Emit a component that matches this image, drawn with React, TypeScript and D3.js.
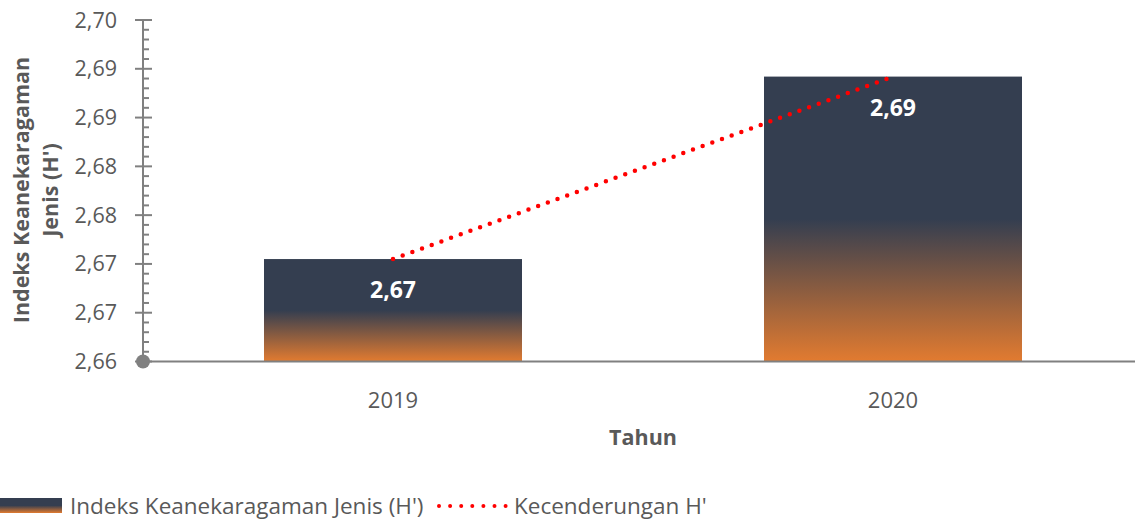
import React from "react";
import * as d3 from "d3";

const years = ["2019", "2020"];
const indexValues = [2.6705, 2.6892];
const valueLabels = ["2,67", "2,69"];
const yTickValues = [2.66, 2.665, 2.67, 2.675, 2.68, 2.685, 2.69, 2.695];
const yTickLabels = ["2,66", "2,67", "2,67", "2,68", "2,68", "2,69", "2,69", "2,70"];

const width = 1135;
const height = 520;
const margin = { top: 20, left: 143, bottom: 361.5 };
const font = "'Open Sans', sans-serif";
const textColor = "#595959";
const axisColor = "#808080";

const App = () => {
  const x = d3.scaleBand().domain(years).range([margin.left, 1143]).padding(0);
  const y = d3.scaleLinear().domain([2.66, 2.695]).range([margin.bottom, margin.top]);
  const barW = x.bandwidth() * 0.516;
  const cx = (d) => x(d) + x.bandwidth() / 2;

  const minorTicks = d3.range(0, 36).map((i) => 2.66 + i * 0.001).filter((_, i) => i % 5 !== 0);

  const trend = d3
    .line()
    .x((d) => cx(d[0]))
    .y((d) => y(d[1]))(years.map((yr, i) => [yr, indexValues[i]]));

  return (
    <svg width={width} height={height} style={{ position: "absolute", left: 0, top: 0 }} fontFamily={font}>
      <defs>
        <linearGradient id="barGrad" x1="0" y1="0" x2="0" y2="1">
          <stop offset="0" stopColor="#343e50" />
          <stop offset="0.5" stopColor="#343e50" />
          <stop offset="1" stopColor="#e27b30" />
        </linearGradient>
      </defs>

      {/* bars */}
      {years.map((yr, i) => (
        <rect
          key={yr}
          x={cx(yr) - barW / 2}
          y={y(indexValues[i])}
          width={barW}
          height={margin.bottom - y(indexValues[i])}
          fill="url(#barGrad)"
        />
      ))}

      {/* y axis */}
      <line x1={margin.left} x2={margin.left} y1={margin.top} y2={margin.bottom} stroke={axisColor} strokeWidth={2} />
      {minorTicks.map((t) => (
        <line key={t} x1={margin.left} x2={margin.left + 6} y1={y(t)} y2={y(t)} stroke={axisColor} strokeWidth={2} />
      ))}
      {yTickValues.map((t, i) => (
        <g key={t}>
          <line x1={margin.left - 8} x2={margin.left + 9} y1={y(t)} y2={y(t)} stroke={axisColor} strokeWidth={2} />
          <text x={117} y={y(t)} dy="0.35em" textAnchor="end" fontSize={21.5} fill={textColor}>
            {yTickLabels[i]}
          </text>
        </g>
      ))}

      {/* x axis */}
      <line x1={margin.left} x2={width} y1={margin.bottom} y2={margin.bottom} stroke={axisColor} strokeWidth={2} />
      <circle cx={margin.left} cy={margin.bottom} r={7} fill={axisColor} />
      {years.map((yr) => (
        <text key={yr} x={cx(yr)} y={400} dy="0.35em" textAnchor="middle" fontSize={22} fill={textColor}>
          {yr}
        </text>
      ))}

      {/* trend line */}
      <path d={trend} fill="none" stroke="#ff0000" strokeWidth={4.5} strokeLinecap="round" strokeDasharray="0 10.3" />

      {/* data labels */}
      {years.map((yr, i) => (
        <text
          key={yr}
          x={cx(yr)}
          y={y(indexValues[i]) + 31}
          dy="0.35em"
          textAnchor="middle"
          fontSize={23}
          fontWeight="bold"
          fill="#ffffff"
        >
          {valueLabels[i]}
        </text>
      ))}

      {/* axis titles */}
      <text x={643} y={437} dy="0.35em" textAnchor="middle" fontSize={21.5} fontWeight="bold" fill={textColor}>
        Tahun
      </text>
      <g transform="translate(0,190) rotate(-90)" fontSize={21.5} fontWeight="bold" fill={textColor} textAnchor="middle">
        <text x={0} y={29}>Indeks Keanekaragaman</text>
        <text x={0} y={58}>Jenis (H')</text>
      </g>

      {/* legend */}
      <rect x={0} y={498} width={62} height={15} fill="url(#barGrad)" />
      <text x={70} y={506} dy="0.35em" fontSize={22.5} fill={textColor}>
        Indeks Keanekaragaman Jenis (H')
      </text>
      <line x1={439} x2={506} y1={506} y2={506} stroke="#ff0000" strokeWidth={4} strokeLinecap="round" strokeDasharray="0 11.1" />
      <text x={514} y={506} dy="0.35em" fontSize={22.5} fill={textColor}>
        Kecenderungan H'
      </text>
    </svg>
  );
};

export default App;
